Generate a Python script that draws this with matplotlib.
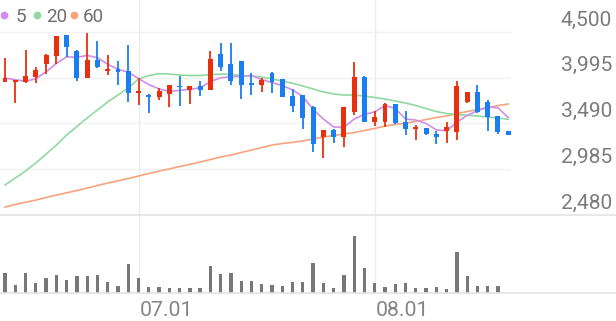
import matplotlib
matplotlib.use('Agg')
import matplotlib.pyplot as plt
from matplotlib.transforms import blended_transform_factory
from matplotlib.lines import Line2D

# ---------------- data ----------------
opens = [3950, 3950, 3945, 4000, 4147, 4238, 4464, 4294, 3992, 4194,
         4066, 4095, 4073, 3827, 3808, 3782, 3816, 3907, 3856, 3900,
         3863, 4260, 4150, 4176, 3934, 3915, 4051, 3978, 3793, 3804,
         3669, 3344, 3418, 3344, 3620, 4007, 3510, 3510, 3702, 3510,
         3426, 3443, 3374, 3410, 3399, 3731, 3834, 3731, 3573, 3410]
highs = [4210, 3975, 4305, 4110, 4257, 4455, 4470, 4300, 4489, 4404,
         4243, 4183, 4353, 3992, 3820, 3882, 3918, 4018, 3905, 3955,
         4294, 4379, 4379, 4180, 4047, 3990, 4055, 3980, 3867, 3810,
         3683, 3420, 3429, 3675, 4165, 4010, 3628, 3713, 3705, 3631,
         3473, 3445, 3410, 3510, 3962, 3840, 3915, 3750, 3575, 3412]
lows = [3945, 3716, 3940, 3937, 4036, 4147, 4221, 3955, 3990, 4105,
        4029, 3918, 3727, 3691, 3606, 3746, 3672, 3686, 3705, 3790,
        3860, 4073, 3912, 3760, 3804, 3841, 3823, 3783, 3613, 3429,
        3179, 3106, 3271, 3234, 3584, 3505, 3462, 3455, 3481, 3363,
        3308, 3365, 3260, 3278, 3308, 3713, 3610, 3410, 3371, 3360]
closes = [3990, 3970, 4018, 4084, 4243, 4452, 4331, 3992, 4194, 4110,
          4092, 4055, 3827, 3845, 3782, 3852, 3912, 3890, 3900, 3860,
          4205, 4114, 3955, 3918, 3915, 3970, 3951, 3786, 3683, 3547,
          3264, 3418, 3344, 3669, 4007, 3510, 3558, 3702, 3499, 3429,
          3451, 3371, 3344, 3448, 3904, 3834, 3613, 3565, 3399, 3363]
volumes = [518, 218, 518, 268, 393, 468, 325, 425, 425, 450,
           283, 183, 743, 383, 158, 158, 133, 133, 143, 143,
           675, 493, 508, 300, 308, 225, 208, 183, 293, 275,
           768, 250, 125, 458, 1443, 643, 250, 150, 233, 250,
           143, 143, 150, 100, 1025, 443, 193, 193, 193, 0]
ma5 = [3992, 3973, 3956, 3984, 4061, 4153, 4226, 4220, 4242, 4216,
       4144, 4089, 4056, 3986, 3920, 3872, 3844, 3856, 3867, 3883,
       3953, 3994, 4007, 4010, 4021, 3974, 3942, 3908, 3861, 3787,
       3646, 3540, 3451, 3448, 3540, 3590, 3618, 3689, 3655, 3540,
       3528, 3490, 3419, 3409, 3504, 3580, 3629, 3673, 3663, 3555]
ma20 = [2811, 2888, 2965, 3054, 3153, 3252, 3363, 3457, 3551, 3639,
        3728, 3804, 3882, 3981, 4020, 4040, 4036, 4025, 4020, 4020,
        4029, 4036, 4031, 4020, 4014, 4003, 3981, 3959, 3934, 3904,
        3871, 3838, 3816, 3804, 3804, 3793, 3777, 3760, 3738, 3716,
        3689, 3655, 3622, 3600, 3587, 3580, 3573, 3562, 3551, 3536]
ma60 = [2568, 2596, 2621, 2645, 2673, 2700, 2725, 2750, 2778, 2805,
        2833, 2857, 2883, 2910, 2938, 2965, 2988, 3015, 3039, 3065,
        3092, 3120, 3142, 3170, 3197, 3225, 3252, 3269, 3282, 3297,
        3319, 3341, 3357, 3374, 3390, 3413, 3435, 3462, 3479, 3495,
        3512, 3534, 3556, 3573, 3600, 3622, 3644, 3666, 3688, 3705]
price_ticks = [4500, 3995, 3490, 2985, 2480]
price_tick_labels = ['4,500', '3,995', '3,490', '2,985', '2,480']
month_pos = [13, 36]
month_labels = ['07.01', '08.01']
legend_labels = ['5', '20', '60']

# ---------------- style ----------------
W, H = 616, 321
RED = '#e8300e'
BLUE = '#1a7ef0'
C5, C20, C60 = '#d18de9', '#92d9a1', '#f7a47c'
GRID = '#f1f1f1'
SEP = '#e4e4e4'
TXT = '#7c7c7c'
FONT = ['Roboto', 'DejaVu Sans']
plt.rcParams['font.family'] = FONT

def fy(px):
    return 1 - px / H

fig = plt.figure(figsize=(W / 100, H / 100), dpi=100)
fig.patch.set_facecolor('white')

n = len(closes)
x0 = -5 / 10.27
x1 = (511 - 5) / 10.27
axp = fig.add_axes([0, fy(215), 511 / W, 215 / H])
axv = fig.add_axes([0, fy(293.3), 511 / W, (293.3 - 215) / H])
for ax in (axp, axv):
    ax.set_xlim(x0, x1)
    ax.axis('off')
axp.set_ylim(2480, 4500 + 32 * (2020 / 183))
axv.set_ylim(0, 78.3 * 25)

# grid lines
for t in price_ticks[:-1]:
    axp.axhline(t, color=GRID, lw=1.0, zorder=0)
for p in month_pos:
    axp.axvline(p, color='#ececec', lw=1.0, zorder=0)
    axv.axvline(p, color='#ececec', lw=1.0, zorder=0)

# moving averages
xs = list(range(n))
axp.plot(xs, ma60, color=C60, lw=1.2, zorder=2)
axp.plot(xs, ma20, color=C20, lw=1.2, zorder=2)
axp.plot(xs, ma5, color=C5, lw=1.2, zorder=2)

# candles
for i in range(n):
    o, h, l, c = opens[i], highs[i], lows[i], closes[i]
    col = RED if c >= o else BLUE
    axp.vlines(i, l, h, color=col, lw=1.3, zorder=3, clip_on=False)
    lo = min(o, c)
    ht = max(abs(c - o), 18)
    axp.bar(i, ht, bottom=lo, width=0.48, color=col, zorder=4, clip_on=False,
            linewidth=0)

# volume
axv.bar(xs, volumes, width=0.32, color='#777777', zorder=3, linewidth=0)

# separator lines
fig.add_artist(Line2D([0, 1], [fy(215), fy(215)], color=SEP, lw=1.2,
                      transform=fig.transFigure))
fig.add_artist(Line2D([0, 1], [fy(293.3), fy(293.3)], color=SEP, lw=1.2,
                      transform=fig.transFigure))

# price labels
tr = blended_transform_factory(fig.transFigure, axp.transData)
for t, lab in zip(price_ticks, price_tick_labels):
    axp.annotate(lab, xy=(612 / W, t), xycoords=tr, xytext=(0, 6.5),
                 textcoords='offset pixels', ha='right', va='baseline',
                 fontsize=15.1, color=TXT, annotation_clip=False)

# month labels
trx = blended_transform_factory(axv.transData, fig.transFigure)
for p, lab in zip(month_pos, month_labels):
    axv.annotate(lab, xy=(p, fy(315.7)), xycoords=trx, xytext=(1.5, 0),
                 textcoords='offset pixels', ha='left', va='baseline',
                 fontsize=15.3, color='#858585', annotation_clip=False)

# legend
dots = [(4, C5, 16), (37.3, C20, 46), (74, C60, 82.6)]
for (dx, col, tx), lab in zip(dots, legend_labels):
    fig.add_artist(Line2D([dx / W], [fy(15)], marker='o', markersize=5.6,
                          color=col, markeredgewidth=0, linestyle='none',
                          transform=fig.transFigure))
    fig.text(tx / W, fy(21.7), lab, ha='left', va='baseline',
             fontsize=13.5, color='#6e6e6e')

fig.savefig('out.png', dpi=100, facecolor='white')
